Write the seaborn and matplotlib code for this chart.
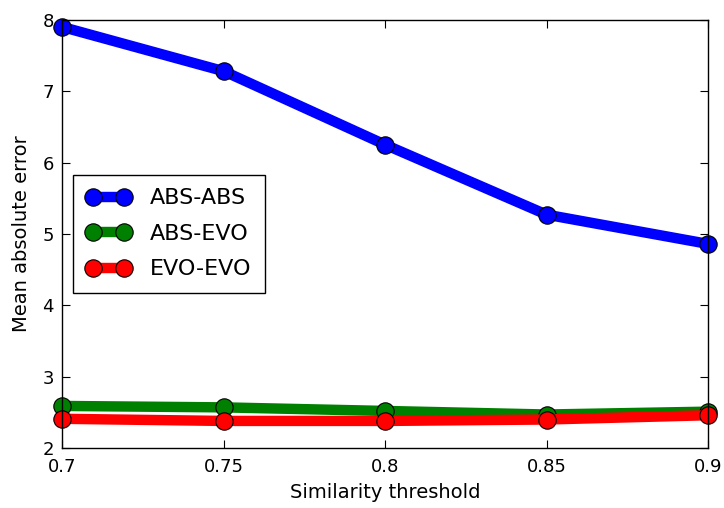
import pandas as pd
import numpy as np

import seaborn as sns
import matplotlib.pyplot as plt

# values
thresholds = [0.7, 0.75, 0.8, 0.85, 0.9]
abs_abs = [7.90, 7.28, 6.25, 5.27, 4.86]
abs_evo = [2.59, 2.57, 2.52, 2.47, 2.51]
evo_evo = [2.41, 2.38, 2.38, 2.40, 2.46]
series_names = ['ABS-ABS', 'ABS-EVO', 'EVO-EVO']
colors = ['#0000ff', '#008000', '#ff0000']

df = pd.DataFrame({
    'threshold': np.tile(thresholds, 3),
    'mae': abs_abs + abs_evo + evo_evo,
    'series': np.repeat(series_names, len(thresholds)),
})

sns.set_style("ticks")
plt.rcParams['font.family'] = ['DejaVu Sans']
plt.rcParams['text.color'] = 'black'
plt.rcParams['axes.labelcolor'] = 'black'
plt.rcParams['xtick.color'] = 'black'
plt.rcParams['ytick.color'] = 'black'
plt.rcParams['xtick.direction'] = 'in'
plt.rcParams['ytick.direction'] = 'in'
plt.rcParams['xtick.top'] = True
plt.rcParams['ytick.right'] = True

fig, ax = plt.subplots(figsize=(7.24, 5.08), dpi=100)
sns.lineplot(data=df, x='threshold', y='mae', hue='series', palette=colors,
             marker='o', markersize=12.5, linewidth=7.5, markeredgecolor='black',
             markeredgewidth=0.8, legend=False, ax=ax, clip_on=False)

ax.set_xlim(0.7, 0.9)
ax.set_ylim(2, 8)
ax.set_xticks(thresholds)
ax.set_xticklabels(['0.7', '0.75', '0.8', '0.85', '0.9'])
ax.set_yticks([2, 3, 4, 5, 6, 7, 8])
ax.tick_params(labelsize=13, length=6, width=0.8)
ax.tick_params(axis='x', pad=7)
ax.tick_params(axis='y', pad=6)
ax.set_xlabel('Similarity threshold', fontsize=14, labelpad=5)
ax.set_ylabel('Mean absolute error', fontsize=14, labelpad=8)
for sp in ax.spines.values():
    sp.set_color('black')
    sp.set_linewidth(1.0)

leg = ax.legend(handles=ax.lines[:3], labels=series_names, loc='center left',
                bbox_to_anchor=(0.017, 0.5), borderaxespad=0, numpoints=2,
                fontsize=16, fancybox=False, framealpha=1, edgecolor='black',
                handlelength=2.0, handletextpad=0.85, borderpad=0.6,
                labelspacing=0.7)
leg.get_frame().set_linewidth(1.0)

plt.subplots_adjust(left=0.086, right=0.978, top=0.961, bottom=0.118)
plt.savefig('out.png', dpi=100)
